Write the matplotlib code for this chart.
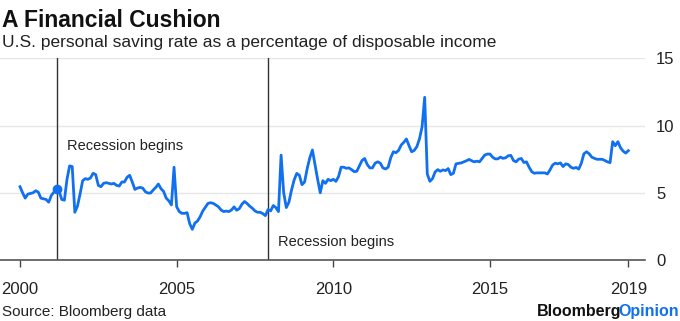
import numpy as np
import matplotlib
matplotlib.use("Agg")
import matplotlib.pyplot as plt

plt.rcParams['font.family'] = ['Liberation Sans', 'DejaVu Sans']

# U.S. personal saving rate, monthly from Jan 2000
saving_rate = [
    5.45, 5.0, 4.6, 4.9, 4.95, 5.0, 5.15, 5.05, 4.6, 4.55, 4.5, 4.3,      # 2000
    4.8, 5.05, 5.3, 5.1, 4.5, 4.45, 6.0, 7.0, 6.95, 3.55, 4.0, 4.9,       # 2001
    5.9, 6.05, 6.0, 6.1, 6.45, 6.35, 5.55, 5.45, 5.7, 5.75, 5.7, 5.65,    # 2002
    5.7, 5.55, 5.5, 5.8, 5.8, 6.15, 6.3, 5.8, 5.25, 5.35, 5.4, 5.35,      # 2003
    5.08, 4.98, 4.98, 5.2, 5.4, 5.65, 5.3, 5.1, 4.6, 4.4, 4.1, 6.9,       # 2004
    3.96, 3.6, 3.47, 3.47, 3.52, 2.7, 2.28, 2.75, 2.9, 3.22, 3.64, 3.92,  # 2005
    4.21, 4.26, 4.21, 4.09, 3.96, 3.72, 3.6, 3.64, 3.6, 3.72, 3.95, 3.7,  # 2006
    3.82, 4.15, 4.35, 4.2, 4.0, 3.85, 3.65, 3.55, 3.55, 3.45, 3.3, 3.75,  # 2007
    3.65, 4.05, 3.9, 3.6, 7.8, 5.0, 3.9, 4.3, 5.2, 5.95, 6.44, 6.3,       # 2008
    5.6, 5.8, 6.8, 7.6, 8.18, 7.1, 6.0, 5.0, 5.9, 5.7, 6.0, 5.9,          # 2009
    6.0, 5.85, 6.2, 6.9, 6.9, 6.82, 6.85, 6.72, 6.57, 6.6, 7.0, 7.4,      # 2010
    7.55, 7.1, 6.85, 6.85, 7.2, 7.3, 7.2, 6.85, 6.77, 6.9, 7.6, 8.05,     # 2011
    7.98, 8.15, 8.55, 8.75, 9.0, 8.5, 8.05, 8.15, 8.43, 9.0, 9.9, 12.1,   # 2012
    6.4, 5.85, 6.05, 6.55, 6.72, 6.6, 6.7, 6.65, 6.8, 6.35, 6.45, 7.15,   # 2013
    7.19, 7.22, 7.3, 7.38, 7.48, 7.38, 7.3, 7.35, 7.3, 7.55, 7.8, 7.88,   # 2014
    7.88, 7.65, 7.52, 7.52, 7.65, 7.56, 7.6, 7.75, 7.78, 7.4, 7.3, 7.5,   # 2015
    7.55, 7.25, 7.3, 6.9, 6.57, 6.45, 6.48, 6.48, 6.48, 6.48, 6.4, 6.7,   # 2016
    7.06, 7.2, 7.15, 7.22, 6.95, 7.15, 7.1, 6.9, 6.82, 6.88, 6.76, 7.2,   # 2017
    7.9, 8.05, 7.9, 7.65, 7.56, 7.49, 7.49, 7.49, 7.4, 7.3, 7.24, 8.8,    # 2018
    8.5, 8.8, 8.35, 8.1, 7.95, 8.13,                                      # 2019
]
start_year = 2000
recessions = [2001 + 2 / 12, 2007 + 11 / 12]   # Mar 2001, Dec 2007
x_ticks = [2000, 2005, 2010, 2015]
x_tick_labels = ['2000', '2005', '2010', '2015', '2019']
y_ticks = [0, 5, 10, 15]

t = start_year + np.arange(len(saving_rate)) / 12

fig = plt.figure(figsize=(6.8, 3.21), dpi=100)
ax = fig.add_axes([0, 1 - 260 / 321, 645 / 680, (260 - 58.3) / 321])

blue = '#1170f0'
ax.plot(t, saving_rate, color=blue, lw=2.0, solid_joinstyle='round', zorder=3)

for r in recessions:
    ax.axvline(r, color='#333333', lw=1.0, zorder=2)
# marker where the first recession begins
ax.plot([recessions[0]], [np.interp(recessions[0], t, saving_rate)], 'o',
        color=blue, ms=6, zorder=4)

ax.text(recessions[0] + 0.33, 8.2, 'Recession begins', fontsize=10.5, color='#222222')
ax.text(recessions[1] + 0.33, 1.05, 'Recession begins', fontsize=10.5, color='#222222')

ax.set_xlim(start_year - 20 / 31.33, start_year + 625 / 31.33)
ax.set_ylim(0, 15)

ax.set_xticks(x_ticks + [t[-1]])
ax.set_xticklabels(x_tick_labels)
ax.set_yticks(y_ticks)
ax.yaxis.tick_right()
ax.tick_params(axis='y', length=0, pad=8, labelsize=12, labelcolor='#222222')
ax.tick_params(axis='x', length=5, width=1, color='#444444', pad=11,
               labelsize=12, labelcolor='#222222')
ax.grid(axis='y', color='#e6e6e6', lw=1)
ax.set_axisbelow(True)
for s in ['top', 'left', 'right']:
    ax.spines[s].set_visible(False)
ax.spines['bottom'].set_color('#555555')
ax.spines['bottom'].set_linewidth(1.2)

fig.text(2 / 680, 1 - 27 / 321, 'A Financial Cushion', fontsize=16.5,
         fontweight='bold', va='baseline', color='#111111')
fig.text(2 / 680, 1 - 47 / 321,
         'U.S. personal saving rate as a percentage of disposable income',
         fontsize=12.5, va='baseline', color='#222222')
fig.text(2 / 680, 1 - 316 / 321, 'Source: Bloomberg data', fontsize=11,
         va='baseline', color='#222222')

# "BloombergOpinion" logo text: place "Opinion" flush right, "Bloomberg" just before it
opinion = fig.text(679 / 680, 1 - 316 / 321, 'Opinion', fontsize=11.5,
                   fontweight='bold', va='baseline', ha='right', color=blue)
fig.canvas.draw()
bb = opinion.get_window_extent(fig.canvas.get_renderer())
fig.text((bb.x0 + 3) / 680, 1 - 316 / 321, 'Bloomberg', fontsize=11.5,
         fontweight='bold', va='baseline', ha='right', color='#111111')

fig.savefig('out.png', dpi=100)
